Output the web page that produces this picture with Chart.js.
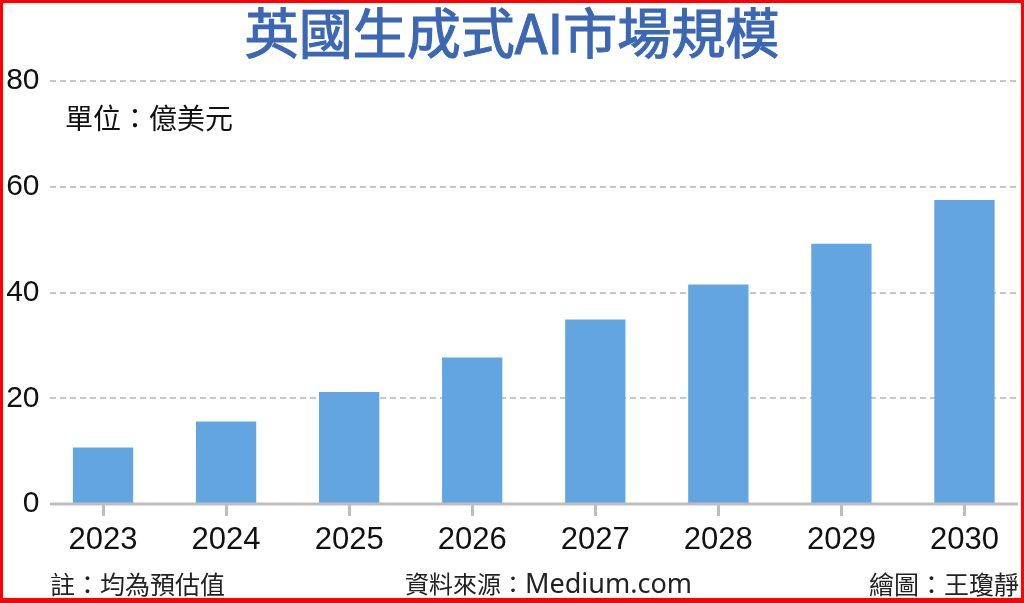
<!DOCTYPE html>
<html>
<head>
<meta charset="utf-8">
<script src="https://cdn.jsdelivr.net/npm/chart.js@4.4.1/dist/chart.umd.min.js"></script>
<style>
  body { margin: 0; width: 1024px; height: 603px; overflow: hidden; background: #fff; position: relative; font-family: "Noto Sans CJK TC", sans-serif; }
  #chart { position: absolute; left: 0; top: 0; }
  .txt { position: absolute; white-space: nowrap; }
  #title { left: 0; width: 1024px; top: 4px; height: 54px; line-height: 54px; text-align: center; font-size: 54px; font-weight: normal; color: #3b67b3; -webkit-text-stroke: 1.2px #3b67b3; }
  #unit { left: 65px; top: 103px; height: 28px; line-height: 28px; font-size: 28px; color: #111; }
  .foot { top: 570px; height: 26px; line-height: 26px; font-size: 25px; color: #222; }
  #note { left: 50px; }
  #source { left: 405px; font-size: 24px; }
  #source span { font-family: "Noto Sans", sans-serif; font-size: 27px; }
  #artist { right: 5px; }
  #frame { position: absolute; left: 0; top: 0; width: 1024px; height: 603px; box-sizing: border-box; border: 3px solid #f00; border-bottom-width: 5px; pointer-events: none; }
</style>
</head>
<body>
<canvas id="chart" width="1040" height="603"></canvas>
<div class="txt" id="title">英國生成式AI市場規模</div>
<div class="txt" id="unit">單位：億美元</div>
<div class="txt foot" id="note">註：均為預估值</div>
<div class="txt foot" id="source">資料來源：<span>Medium.com</span></div>
<div class="txt foot" id="artist">繪圖：王瓊靜</div>
<div id="frame"></div>
<script>
// 英國生成式AI市場規模（億美元）
var years = ['2023', '2024', '2025', '2026', '2027', '2028', '2029', '2030'];
var marketSize = [10.7, 15.6, 21.2, 27.7, 34.9, 41.5, 49.2, 57.5];
var yTicks = [0, 20, 40, 60, 80];

// dashed grid and grey base line, drawn narrower than the category area
var gridPlugin = {
    id: 'dashGrid',
    beforeDatasetsDraw: function (chart) {
        var ctx = chart.ctx;
        var y = chart.scales.y;
        ctx.save();
        ctx.strokeStyle = '#b5b5b5';
        ctx.lineWidth = 1.5;
        ctx.setLineDash([6, 4]);
        yTicks.forEach(function (v) {
            if (v === 0) return;
            var py = Math.round(y.getPixelForValue(v));
            ctx.beginPath();
            ctx.moveTo(50, py);
            ctx.lineTo(1018, py);
            ctx.stroke();
        });
        ctx.restore();
    },
    afterDatasetsDraw: function (chart) {
        var ctx = chart.ctx;
        var py = chart.scales.y.getPixelForValue(0);
        ctx.save();
        ctx.strokeStyle = '#bdbdbd';
        ctx.lineWidth = 3;
        ctx.beginPath();
        ctx.moveTo(50, py);
        ctx.lineTo(1018, py);
        ctx.stroke();
        ctx.restore();
    }
};

var ctx = document.getElementById('chart').getContext('2d');
var chart = new Chart(ctx, {
    type: 'bar',
    data: {
        labels: years,
        datasets: [{
            data: marketSize,
            backgroundColor: '#62a5e0',
            borderWidth: 0,
            categoryPercentage: 1,
            barPercentage: 0.49
        }]
    },
    options: {
        responsive: false,
        animation: false,
        layout: { padding: { top: 81, right: 14, bottom: 39, left: 0 } },
        plugins: {
            legend: { display: false },
            tooltip: { enabled: false }
        },
        scales: {
            x: {
                offset: true,
                border: { display: false },
                grid: {
                    offset: false,
                    drawOnChartArea: false,
                    drawTicks: true,
                    tickLength: 12,
                    color: '#bdbdbd',
                    lineWidth: 3
                },
                ticks: {
                    padding: 6,
                    color: '#111',
                    font: { family: 'Liberation Sans', size: 31 }
                },
                afterFit: function (s) { s.height = 60; }
            },
            y: {
                min: yTicks[0],
                max: yTicks[yTicks.length - 1],
                border: { display: false },
                grid: { display: false, drawTicks: false, tickLength: 0 },
                ticks: {
                    stepSize: 20,
                    padding: 2,
                    color: '#111',
                    font: { family: 'Liberation Sans', size: 30 }
                },
                afterFit: function (s) { s.width = 41.5; }
            }
        }
    },
    plugins: [gridPlugin]
});
</script>
</body>
</html>
